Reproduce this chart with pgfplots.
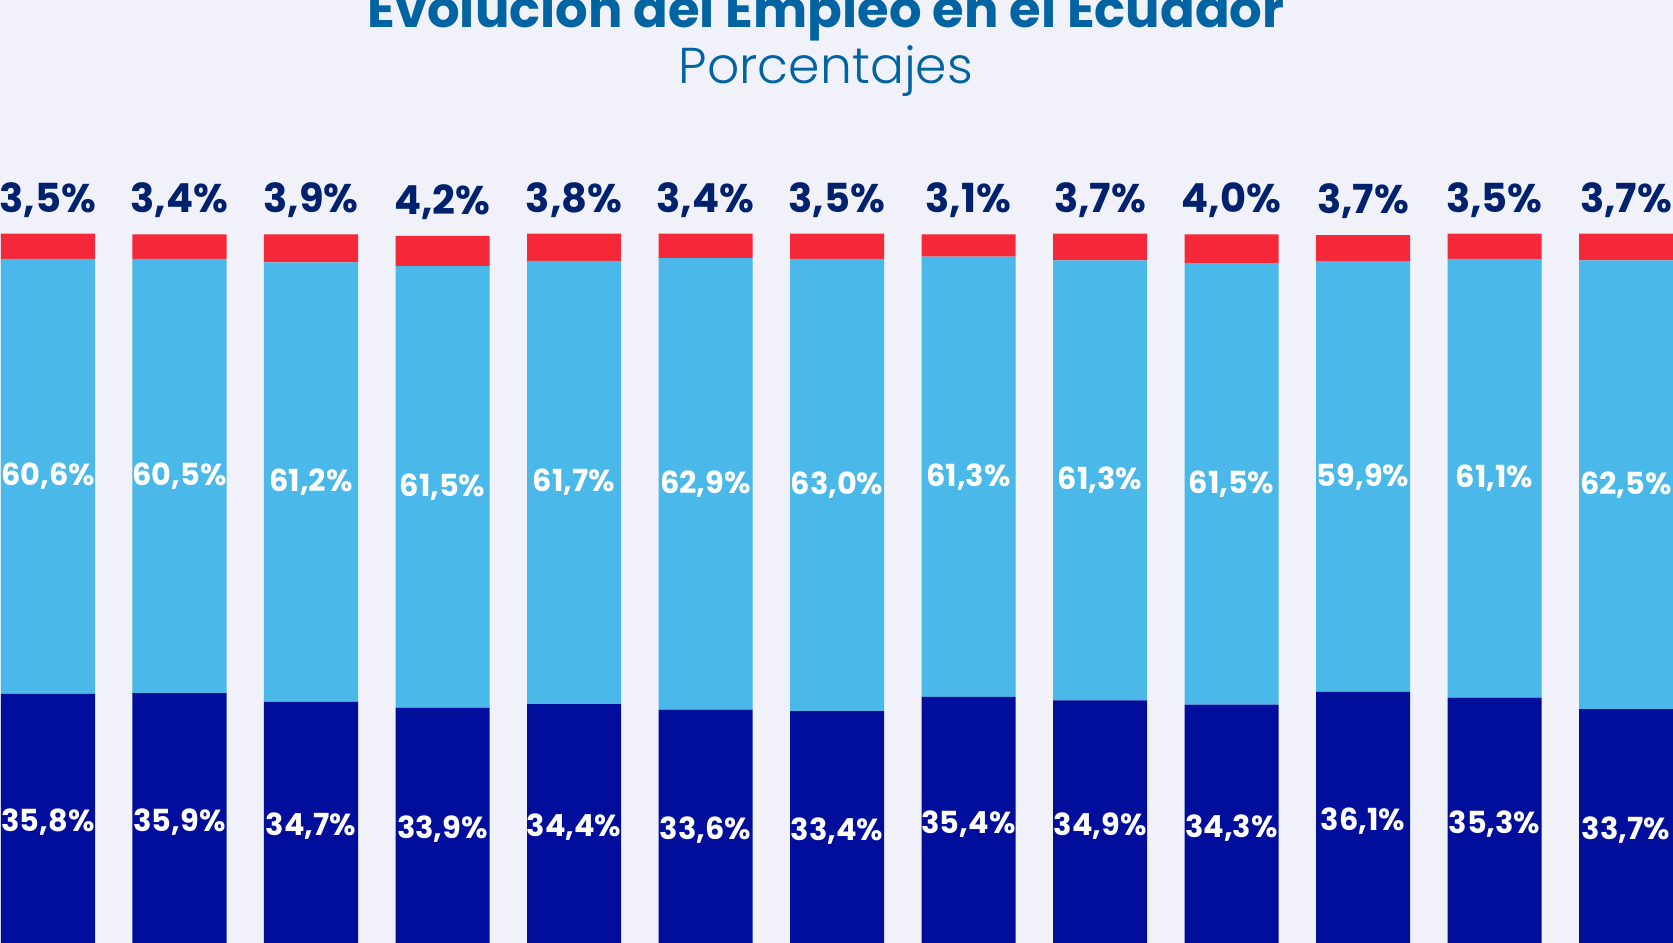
\documentclass[border=0pt]{standalone}
\usepackage{pgfplots}
\usepackage{pgfplotstable}
\pgfplotsset{compat=1.18}
\usepackage{fontspec}
\setmainfont{Poppins}
\newfontfamily\lightfont{Poppins Light}
\definecolor{bg}{RGB}{240,241,249}
\definecolor{darkbar}{RGB}{0,14,155}
\definecolor{midbar}{RGB}{74,184,232}
\definecolor{redbar}{RGB}{244,40,56}
\definecolor{toplab}{RGB}{0,34,110}
\definecolor{titlec}{RGB}{0,100,162}

\pgfplotstableread{
x dark mid red
0 35.8 60.6 3.5
1 35.9 60.5 3.4
2 34.7 61.2 3.9
3 33.9 61.5 4.2
4 34.4 61.7 3.8
5 33.6 62.9 3.4
6 33.4 63.0 3.5
7 35.4 61.3 3.1
8 34.9 61.3 3.7
9 34.3 61.5 4.0
10 36.1 59.9 3.7
11 35.3 61.1 3.5
12 33.7 62.5 3.7
}\data

\pgfplotsset{base/.style={
  scale only axis, width=418.25pt, height=235.75pt,
  xmin=-0.365, xmax=12.357, ymin=1.114, ymax=132.45,
  at={(0,0)}, anchor=south west, hide axis}}

\begin{document}
\begin{tikzpicture}
\fill[bg] (0,0) rectangle (418.25pt,235.75pt);
\begin{axis}[base, ybar stacked, bar width=0.715,
  every axis plot/.append style={draw=none}]
\addplot[fill=darkbar] table[x=x, y=dark] {\data};
\addplot[fill=midbar] table[x=x, y=mid] {\data};
\addplot[fill=redbar] table[x=x, y=red] {\data};
\end{axis}
\begin{axis}[base, clip=false]
\addplot[draw=none, mark=none, nodes near coords={\pgfmathprintnumber[fixed,fixed zerofill,precision=1,use comma,assume math mode=true]{\pgfplotspointmeta}\%},
  every node near coord/.append style={anchor=center, text=white, font=\bfseries\fontsize{7.6}{9}\selectfont},
  point meta=\thisrow{dark}] table[x=x, y expr=\thisrow{dark}/2] {\data};
\addplot[draw=none, mark=none, nodes near coords={\pgfmathprintnumber[fixed,fixed zerofill,precision=1,use comma,assume math mode=true]{\pgfplotspointmeta}\%},
  every node near coord/.append style={anchor=center, text=white, font=\bfseries\fontsize{7.6}{9}\selectfont},
  point meta=\thisrow{mid}] table[x=x, y expr=\thisrow{dark}+\thisrow{mid}/2] {\data};
\addplot[draw=none, mark=none, nodes near coords={\pgfmathprintnumber[fixed,fixed zerofill,precision=1,use comma,assume math mode=true]{\pgfplotspointmeta}\%},
  every node near coord/.append style={anchor=base, inner sep=0pt, text=toplab, font=\bfseries\fontsize{10}{12}\selectfont},
  point meta=\thisrow{red}] table[x=x, y expr=\thisrow{dark}+\thisrow{mid}+\thisrow{red}+3] {\data};
\node[anchor=base, inner sep=0pt, text=titlec, font=\bfseries\fontsize{12.8}{14}\selectfont] at (rel axis cs:0.4937,0.971) {Evolución del Empleo en el Ecuador};
\node[anchor=base, inner sep=0pt, text=titlec, font=\lightfont\fontsize{12.6}{14}\selectfont] at (rel axis cs:0.4937,0.911) {Porcentajes};
\end{axis}
\pgfresetboundingbox
\path[use as bounding box] (0,0) rectangle (418.25pt,235.75pt);
\end{tikzpicture}
\end{document}
